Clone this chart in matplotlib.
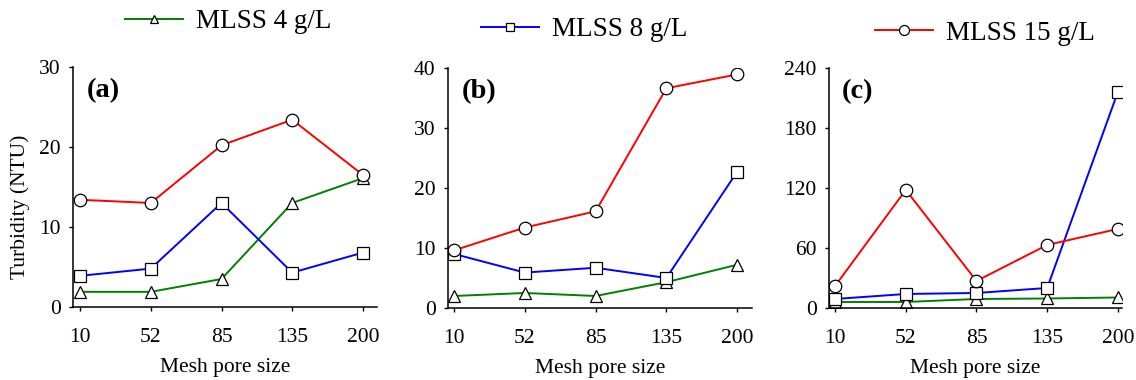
import matplotlib.pyplot as plt
import numpy as np

plt.rcParams['font.family'] = ['Liberation Serif', 'DejaVu Serif']

mesh = ['10', '52', '85', '135', '200']

# panel (a)
a_4 = [1.9, 1.9, 3.5, 13.0, 16.1]
a_8 = [3.9, 4.8, 13.0, 4.3, 6.8]
a_15 = [13.4, 13.0, 20.2, 23.4, 16.5]

# panel (b)
b_4 = [2.0, 2.5, 2.0, 4.3, 7.2]
b_8 = [9.0, 5.9, 6.7, 5.0, 22.7]
b_15 = [9.6, 13.4, 16.1, 36.6, 38.9]

# panel (c)
c_4 = [6, 6, 9, 9.5, 10.5]
c_8 = [9, 14, 15, 20, 216]
c_15 = [22, 118, 27, 63, 79]

panels = [
    ('(a)', a_4, a_8, a_15, 30, [0, 10, 20, 30]),
    ('(b)', b_4, b_8, b_15, 40, [0, 10, 20, 30, 40]),
    ('(c)', c_4, c_8, c_15, 240, [0, 60, 120, 180, 240]),
]
rects = [
    [0.0643, 0.192, 0.2676, 0.632],
    [0.3944, 0.1895, 0.2676, 0.632],
    [0.7298, 0.1895, 0.258, 0.632],
]
xlims = [(-0.1, 4.2), (-0.085, 4.21), (-0.085, 4.06)]

fig = plt.figure(figsize=(11.36, 3.8), dpi=100)
x = np.arange(len(mesh))
mk = dict(markerfacecolor='white', markeredgecolor='black', markeredgewidth=0.9)
lines = None
for i, (lab, s4, s8, s15, ymax, yt) in enumerate(panels):
    ax = fig.add_axes(rects[i])
    l1, = ax.plot(x, s4, color='green', lw=1.4, marker='^', ms=8, label='MLSS 4 g/L', **mk)
    l2, = ax.plot(x, s8, color='blue', lw=1.4, marker='s', ms=8, label='MLSS 8 g/L', **mk)
    l3, = ax.plot(x, s15, color='red', lw=1.4, marker='o', ms=9, label='MLSS 15 g/L', **mk)
    lines = [l1, l2, l3]
    ax.set_xlim(*xlims[i])
    ax.set_ylim(0, ymax)
    ax.set_yticks(yt)
    ax.set_xticks(x)
    ax.set_xticklabels(mesh)
    for s in ['top', 'right']:
        ax.spines[s].set_visible(False)
    for s in ['left', 'bottom']:
        ax.spines[s].set_linewidth(1.1)
    ax.tick_params(axis='x', length=3, width=1, pad=12, labelsize=15.5)
    ax.tick_params(axis='y', length=3, width=1, pad=6, labelsize=15.5)
    ax.set_xlabel('Mesh pore size', fontsize=15.5, labelpad=8)
    ax.text(0.045, 0.9, lab, transform=ax.transAxes, fontsize=20.5,
            fontweight='bold', ha='left', va='center')
    if i == 0:
        ax.set_ylabel('Turbidity (NTU)', fontsize=15.5)
        ax.yaxis.set_label_coords(-0.141, 0.417)

leg_pos = [(125, 22), (481, 30), (875, 33)]
for ln, (px, py) in zip(lines, leg_pos):
    fig.legend(handles=[ln], loc='center left',
               bbox_to_anchor=(px / 1136, 1 - py / 380),
               frameon=False, fontsize=19.5, borderpad=0, borderaxespad=0,
               handlelength=2.14, handletextpad=0.5, markerscale=0.8)

fig.savefig('out.png', dpi=100)
